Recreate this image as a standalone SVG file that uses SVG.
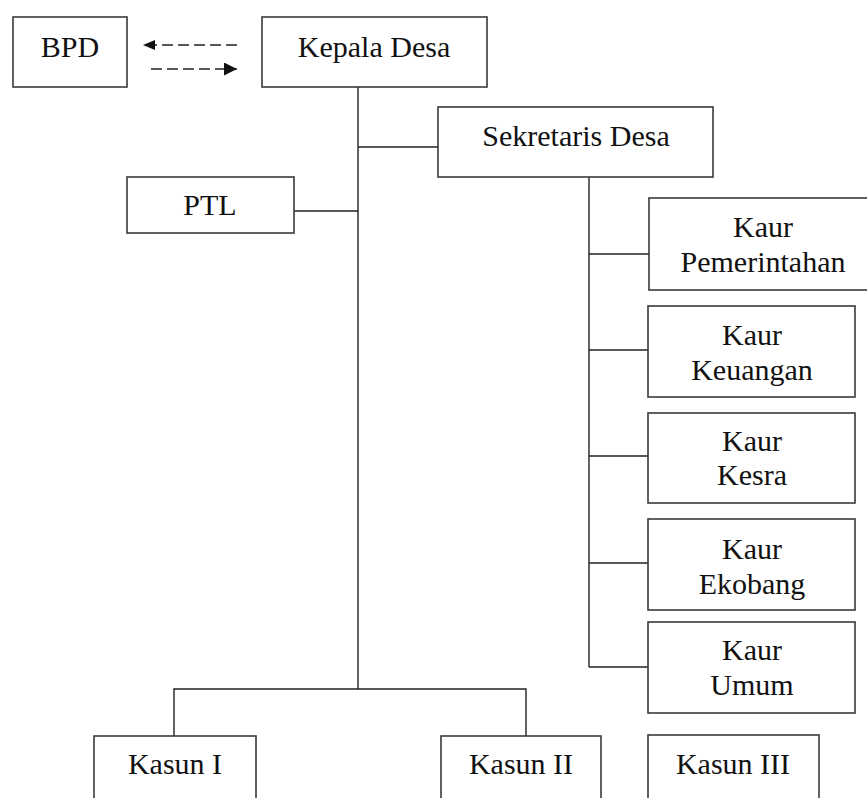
<svg xmlns="http://www.w3.org/2000/svg" width="867" height="798" viewBox="0 0 867 798" font-family="Liberation Serif, DejaVu Serif, serif">
<style>
.box{fill:#fff;stroke:#3a3a3a;stroke-width:1.6}
.t{font-size:30px;fill:#111;text-anchor:middle}
.c{stroke:#222;stroke-width:1.4;fill:none}
.d{stroke:#222;stroke-width:1.6;fill:none;stroke-dasharray:11 5}
</style>
<defs>
<marker id="ah" viewBox="0 0 12 10" refX="12" refY="5" markerWidth="12" markerHeight="10" markerUnits="userSpaceOnUse" orient="auto">
<path d="M0,0 L12,5 L0,10 Z" fill="#111"/>
</marker>
<marker id="ah2" viewBox="0 0 14 14" refX="14" refY="7" markerWidth="14" markerHeight="13" markerUnits="userSpaceOnUse" orient="auto">
<path d="M0,0 L14,7 L0,14 Z" fill="#111"/>
</marker>
</defs>
<rect width="867" height="798" fill="#fff"/>
<g id="connectors">
<line class="c" x1="358" y1="87" x2="358" y2="689"/>
<line class="c" x1="358" y1="147" x2="438" y2="147"/>
<line class="c" x1="294" y1="211" x2="358" y2="211"/>
<polyline class="c" points="174,736 174,689 526,689 526,736"/>
<line class="c" x1="589" y1="177" x2="589" y2="667"/>
<line class="c" x1="589" y1="254" x2="649" y2="254"/>
<line class="c" x1="589" y1="350" x2="648" y2="350"/>
<line class="c" x1="589" y1="456" x2="648" y2="456"/>
<line class="c" x1="589" y1="563" x2="648" y2="563"/>
<line class="c" x1="589" y1="667" x2="648" y2="667"/>
<line class="d" x1="237" y1="45" x2="143" y2="45" marker-end="url(#ah)"/>
<line class="d" x1="151" y1="69" x2="237" y2="69" marker-end="url(#ah2)"/>
</g>
<g id="bpd"><rect class="box" x="13" y="17" width="114" height="70"/><text class="t" x="70" y="57">BPD</text></g>
<g id="kepala-desa"><rect class="box" x="262" y="17" width="225" height="70"/><text class="t" x="374" y="57">Kepala Desa</text></g>
<g id="sekretaris-desa"><rect class="box" x="438" y="107" width="275" height="70"/><text class="t" x="576" y="146">Sekretaris Desa</text></g>
<g id="ptl"><rect class="box" x="127" y="177" width="167" height="56"/><text class="t" x="210" y="215">PTL</text></g>
<g id="kaur-pemerintahan"><rect class="box" x="649" y="198" width="228" height="92"/><text class="t" x="763" y="237">Kaur</text><text class="t" x="763" y="272">Pemerintahan</text></g>
<g id="kaur-keuangan"><rect class="box" x="648" y="306" width="207" height="91"/><text class="t" x="752" y="345">Kaur</text><text class="t" x="752" y="380">Keuangan</text></g>
<g id="kaur-kesra"><rect class="box" x="648" y="413" width="207" height="90"/><text class="t" x="752" y="451">Kaur</text><text class="t" x="752" y="485">Kesra</text></g>
<g id="kaur-ekobang"><rect class="box" x="648" y="519" width="207" height="91"/><text class="t" x="752" y="559">Kaur</text><text class="t" x="752" y="594">Ekobang</text></g>
<g id="kaur-umum"><rect class="box" x="648" y="622" width="207" height="91"/><text class="t" x="752" y="660">Kaur</text><text class="t" x="752" y="695">Umum</text></g>
<g id="kasun-1"><rect class="box" x="94" y="736" width="162" height="80"/><text class="t" x="175" y="774">Kasun I</text></g>
<g id="kasun-2"><rect class="box" x="441" y="736" width="160" height="80"/><text class="t" x="521" y="774">Kasun II</text></g>
<g id="kasun-3"><rect class="box" x="648" y="735" width="171" height="80"/><text class="t" x="733" y="774">Kasun III</text></g>
</svg>
